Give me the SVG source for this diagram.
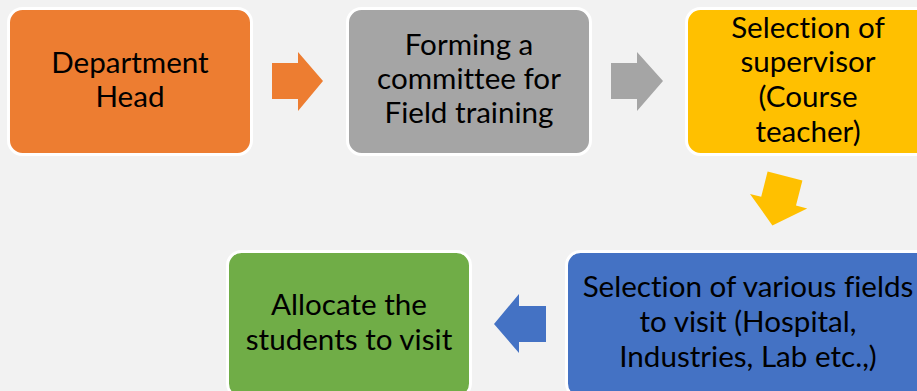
<svg xmlns="http://www.w3.org/2000/svg" width="917" height="391" viewBox="0 0 917 391">
<style>
.box{stroke:#FFFFFF;stroke-width:3}
.t{font-family:Lato,"Liberation Sans",sans-serif;font-size:29.6px;fill:#000000;text-anchor:middle;font-variant-ligatures:none;font-feature-settings:"liga" 0,"dlig" 0}
</style>
<rect x="0" y="0" width="917" height="391" fill="#F2F2F2"/>
<g id="connectors">
<polygon points="272,63 298,63 298,52 323,81 298,111 298,99 272,99" fill="#ED7D31"/>
<polygon points="611,63 637,63 637,52 663,81 637,111 637,99 611,99" fill="#A5A5A5"/>
<polygon points="767.6,171.6 802.4,180.4 796,205.6 807.2,208.5 772.4,225.4 750,193.9 761.2,196.8" fill="#FFC000"/>
<polygon points="546,306 519,306 519,294 494,324 519,353 519,342 546,342" fill="#4472C4"/>
</g>
<g id="n1">
<rect class="box" x="8.5" y="8.5" width="243" height="146" rx="14" fill="#ED7D31"/>
<text class="t" x="130" y="73">Department</text>
<text class="t" x="130" y="107">Head</text>
</g>
<g id="n2">
<rect class="box" x="347.5" y="8.5" width="243" height="146" rx="14" fill="#A5A5A5"/>
<text class="t" x="469" y="55">Forming a</text>
<text class="t" x="469" y="89">committee for</text>
<text class="t" x="469" y="123">Field training</text>
</g>
<g id="n3">
<rect class="box" x="686.5" y="8.5" width="243" height="146" rx="14" fill="#FFC000"/>
<text class="t" x="808" y="38">Selection of</text>
<text class="t" x="808" y="72">supervisor</text>
<text class="t" x="808" y="107">(Course</text>
<text class="t" x="808" y="142">teacher)</text>
</g>
<g id="n4">
<rect class="box" x="566.5" y="251.5" width="363" height="146" rx="14" fill="#4472C4"/>
<text class="t" x="748" y="297">Selection of various fields</text>
<text class="t" x="748" y="332">to visit (Hospital,</text>
<text class="t" x="748" y="367">Industries, Lab etc.,)</text>
</g>
<g id="n5">
<rect class="box" x="227.5" y="251.5" width="243" height="146" rx="14" fill="#70AD47"/>
<text class="t" x="349" y="315">Allocate the</text>
<text class="t" x="349" y="350">students to visit</text>
</g>
</svg>
